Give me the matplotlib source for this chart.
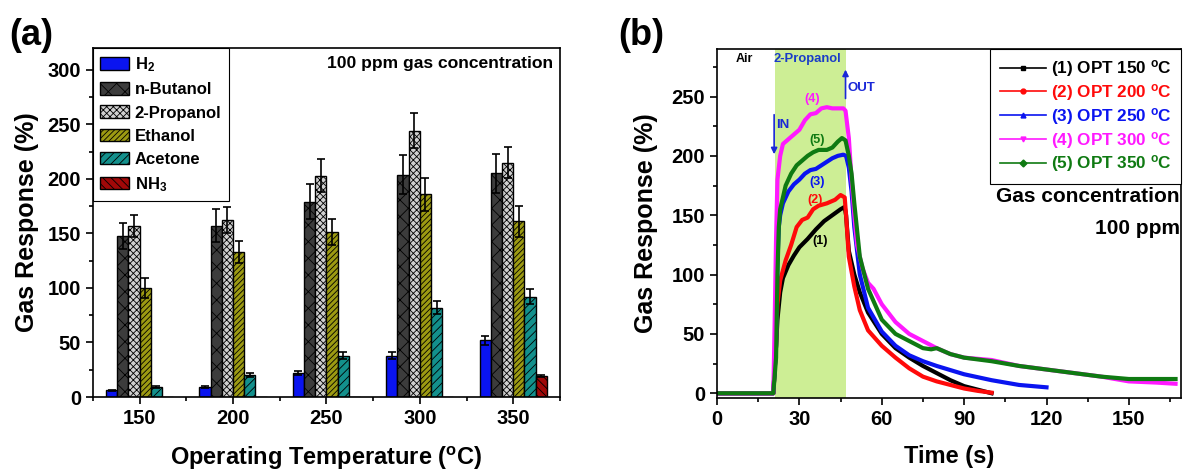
import matplotlib
matplotlib.use("Agg")
from matplotlib import pyplot as plt
from matplotlib.lines import Line2D
from matplotlib.ticker import MultipleLocator

plt.rcParams.update({
    "font.family": ["Liberation Sans", "DejaVu Sans"],
    "font.weight": "bold",
    "axes.labelweight": "bold",
    "mathtext.fontset": "custom",
    "mathtext.rm": "Liberation Sans:bold",
    "mathtext.bf": "Liberation Sans:bold",
    "mathtext.default": "rm",
    "hatch.linewidth": 0.6,
    "axes.linewidth": 1.2,
})

# ---- panel (a): response vs operating temperature ----
temps = [150, 200, 250, 300, 350]
gases = ["H$_2$", "n-Butanol", "2-Propanol", "Ethanol", "Acetone", "NH$_3$"]
h2 = [6, 9, 22, 38, 52]
h2_err = [0.8, 1, 2, 3, 4]
butanol = [148, 157, 179, 204, 205]
butanol_err = [12, 15, 16, 18, 18]
propanol = [157, 162, 203, 244, 215]
propanol_err = [10, 12, 15, 16, 14]
ethanol = [100, 133, 151, 186, 161]
ethanol_err = [9, 10, 12, 15, 14]
acetone = [9, 20, 38, 82, 92]
acetone_err = [1, 2, 3, 6, 7]
nh3 = [0, 0, 0, 0, 19]
nh3_err = [0, 0, 0, 0, 1]

values = [h2, butanol, propanol, ethanol, acetone, nh3]
errors = [h2_err, butanol_err, propanol_err, ethanol_err, acetone_err, nh3_err]
colors = ["#0a14f0", "#3c3c3c", "#cfcfcf", "#9c9a12", "#13908c", "#a00808"]
hatches = [None, "xx", "xxxxx", "//////", "////", "\\\\\\\\"]

# ---- panel (b): dynamic response of 2-propanol ----
t1 = [0, 20.5, 21.5, 22, 23, 24, 26, 28, 30, 33, 36, 39, 42, 45, 46.5,
      47, 48, 50, 52, 55, 60, 65, 70, 75, 80, 85, 90, 95, 100]
r1 = [0, 0, 40, 62, 85, 97, 108, 116, 123, 130, 138, 145, 150, 155, 157,
      150, 120, 100, 85, 68, 50, 38, 30, 23, 17, 11, 6, 3, 0]
t2 = [0, 20.5, 21.5, 22, 23, 25, 27, 29, 31, 33, 35, 37, 40, 43, 45, 46.5,
      47, 48, 50, 52, 55, 60, 65, 70, 75, 80, 85, 90, 95, 100]
r2 = [0, 0, 40, 75, 95, 112, 125, 140, 146, 148, 155, 158, 160, 163, 167, 165,
      150, 115, 90, 70, 53, 40, 30, 21, 14, 10, 7, 4, 2, 0.5]
t3 = [0, 20.5, 21.5, 22, 22.5, 23, 24, 26, 28, 30, 32, 34, 36, 38, 40, 42, 44, 46, 47,
      48, 49, 50, 52, 55, 60, 65, 70, 75, 80, 90, 100, 110, 120]
r3 = [0, 0, 40, 110, 140, 150, 160, 170, 176, 180, 185, 188, 189, 192, 195, 198, 200, 201, 200,
      190, 170, 140, 100, 72, 52, 40, 32, 27, 23, 16, 11, 7, 5]
t4 = [0, 20.5, 21, 21.5, 22, 23, 24, 26, 28, 30, 32, 34, 36, 38, 40, 42, 44, 46, 46.8,
      48, 49, 50, 51, 53, 55, 57, 60, 65, 70, 75, 80, 85, 90, 95, 100, 110, 120, 130,
      140, 150, 160, 167]
r4 = [0, 0, 60, 130, 180, 200, 210, 214, 218, 222, 230, 235, 236, 240, 241, 240, 240, 240, 238,
      215, 180, 150, 125, 105, 93, 88, 75, 60, 50, 44, 38, 33, 30, 29, 28, 23, 20, 17,
      14, 10, 9, 8]
t5 = [0, 20.5, 21.5, 22, 22.5, 23, 24, 25, 27, 29, 31, 33, 35, 37, 40, 42, 44, 45.5, 46.8,
      48, 49, 50, 52, 55, 60, 65, 70, 75, 78, 80, 85, 90, 100, 110, 120, 130, 140, 150,
      160, 167]
r5 = [0, 0, 30, 100, 140, 155, 165, 175, 185, 192, 196, 200, 203, 205, 205, 207, 212, 215, 213,
      200, 185, 160, 115, 88, 62, 50, 44, 38, 37, 38, 33, 30, 27, 23, 20, 17, 14, 12,
      12, 12]
series_t = [t1, t2, t3, t4, t5]
series_r = [r1, r2, r3, r4, r5]
series_labels = ["(1) OPT 150 $^{o}$C", "(2) OPT 200 $^{o}$C", "(3) OPT 250 $^{o}$C",
                 "(4) OPT 300 $^{o}$C", "(5) OPT 350 $^{o}$C"]
series_colors = ["#000000", "#ff0a0a", "#0a14f0", "#ff19ff", "#0f7a12"]
series_markers = ["s", "o", "^", "v", "D"]
curve_tags = ["(1)", "(2)", "(3)", "(4)", "(5)"]
tag_t = [37.5, 35.8, 36.5, 34.5, 36.5]
tag_r = [128, 163, 178, 248, 213]

fig = plt.figure(figsize=(11.84, 4.75), dpi=100)

# panel (a)
ax = fig.add_axes([0.0785, 0.1642, 0.3944, 0.7347])
width = 6
offsets = [-15, -9, -3, 3, 9, 15]
for i in range(len(gases)):
    xs = [t + offsets[i] for t in temps]
    ax.bar(xs, values[i], width, color=colors[i], edgecolor="black", linewidth=1.0,
           hatch=hatches[i], label=gases[i], zorder=2)
    err_x = [x for x, v in zip(xs, values[i]) if v > 0]
    err_y = [v for v in values[i] if v > 0]
    err_e = [e for e, v in zip(errors[i], values[i]) if v > 0]
    ax.errorbar(err_x, err_y, yerr=err_e, fmt="none", ecolor="black",
                elinewidth=1.2, capsize=3, capthick=1.2, zorder=3)
ax.set_xlim(125, 375)
ax.set_ylim(0, 320)
ax.set_xticks(temps)
ax.xaxis.set_minor_locator(MultipleLocator(25))
ax.yaxis.set_major_locator(MultipleLocator(50))
ax.yaxis.set_minor_locator(MultipleLocator(25))
ax.tick_params(which="major", length=5, width=1.2, labelsize=14.5)
ax.tick_params(which="minor", length=3, width=1.2)
ax.set_xlabel("Operating Temperature ($^{o}$C)", fontsize=17, labelpad=12)
ax.set_ylabel("Gas Response (%)", fontsize=18, labelpad=6)
leg = ax.legend(loc="upper left", bbox_to_anchor=(0, 1), borderaxespad=0, fontsize=12,
                handlelength=1.7, handleheight=0.8, labelspacing=0.48, handletextpad=0.35,
                fancybox=False, edgecolor="black", framealpha=1, borderpad=0.45)
leg.get_frame().set_linewidth(0.8)
ax.text(0.985, 0.955, "100 ppm gas concentration", transform=ax.transAxes,
        ha="right", va="center", fontsize=12.6)
fig.text(0.008, 0.925, "(a)", fontsize=26, ha="left", va="center")

# panel (b)
bx = fig.add_axes([0.6056, 0.1621, 0.3919, 0.7347])
bx.axvspan(21, 46.8, color="#cdee95", lw=0, zorder=0)
for t, r, c, lab in zip(series_t, series_r, series_colors, series_labels):
    bx.plot(t, r, color=c, lw=3, zorder=2)
for tag, tt, rr, c in zip(curve_tags, tag_t, tag_r, series_colors):
    bx.text(tt, rr, tag, color=c, fontsize=9, ha="center", va="center", zorder=4)
bx.set_xlim(0, 169)
bx.set_ylim(-4, 290)
bx.xaxis.set_major_locator(MultipleLocator(30))
bx.xaxis.set_minor_locator(MultipleLocator(15))
bx.yaxis.set_major_locator(MultipleLocator(50))
bx.yaxis.set_minor_locator(MultipleLocator(25))
bx.tick_params(which="major", length=5, width=1.2, labelsize=14.5)
bx.tick_params(which="minor", length=3, width=1.2)
bx.set_xlabel("Time (s)", fontsize=17, labelpad=12)
bx.set_ylabel("Gas Response (%)", fontsize=18, labelpad=10)

handles = [Line2D([], [], color=c, lw=1.2, marker=m, markersize=3.5)
           for c, m in zip(series_colors, series_markers)]
leg2 = bx.legend(handles, series_labels, loc="upper right", bbox_to_anchor=(1, 1),
                 borderaxespad=0, fontsize=12.3, handlelength=2.7, labelspacing=0.16,
                 handletextpad=0.3, fancybox=False, edgecolor="black", framealpha=1,
                 labelcolor=series_colors, borderpad=0.55)
leg2.get_frame().set_linewidth(0.8)
bx.text(0.997, 0.576, "Gas concentration", transform=bx.transAxes,
        ha="right", va="center", fontsize=15)
bx.text(0.997, 0.487, "100 ppm", transform=bx.transAxes,
        ha="right", va="center", fontsize=15)

bx.text(9.8, 282, "Air", fontsize=9, ha="center", va="center")
bx.text(33, 282, "2-Propanol", fontsize=9.4, ha="center", va="center", color="#1a3cc8")
bx.annotate("", xy=(20.8, 199), xytext=(20.8, 237),
            arrowprops=dict(arrowstyle="-|>", color="#1a28d8", lw=1.2, mutation_scale=9))
bx.text(21.6, 226, "IN", fontsize=9.5, color="#1a28d8", ha="left", va="center")
bx.annotate("", xy=(46.8, 275), xytext=(46.8, 246),
            arrowprops=dict(arrowstyle="-|>", color="#1a28d8", lw=1.2, mutation_scale=9))
bx.text(47.6, 257, "OUT", fontsize=9.5, color="#1a28d8", ha="left", va="center")
fig.text(0.522, 0.925, "(b)", fontsize=26, ha="left", va="center")

fig.savefig("out.png", dpi=100)
plt.close(fig)
